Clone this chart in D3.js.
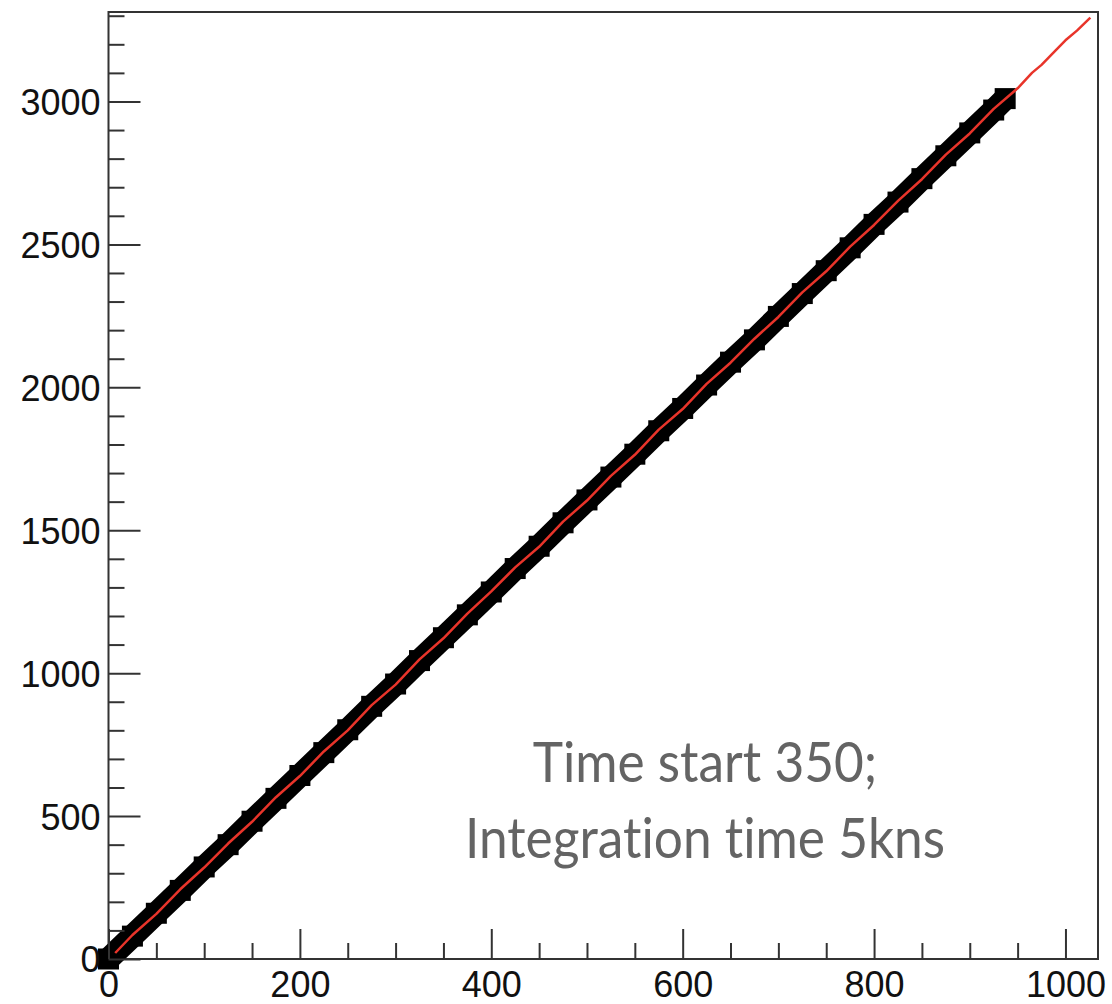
<!DOCTYPE html>
<html>
<head>
<meta charset="utf-8">
<script src="https://cdn.jsdelivr.net/npm/d3@7"></script>
<style>
  body { margin: 0; background: #fff; }
  svg { display: block; }
</style>
</head>
<body>
<svg id="chart" width="1112" height="1004"></svg>
<script>
// black scatter band (centre line)
const bandX = [0, 25, 50, 75, 100, 125, 150, 175, 200, 225, 250, 275, 300, 325, 350, 375, 400,
  425, 450, 475, 500, 525, 550, 575, 600, 625, 650, 675, 700, 725, 750, 775, 800, 825, 850,
  875, 900, 925, 937];
const bandY = [0, 80, 160, 240, 322, 400, 482, 562, 642, 722, 802, 884, 962, 1044, 1124, 1204, 1284,
  1366, 1444, 1526, 1606, 1686, 1766, 1848, 1926, 2008, 2088, 2166, 2248, 2328, 2408, 2488, 2570,
  2648, 2730, 2810, 2890, 2970, 3010];

// red profile
const redX = [7, 25, 50, 75, 100, 125, 150, 175, 200, 225, 250, 275, 300, 325, 350, 375, 400,
  425, 450, 475, 500, 525, 550, 575, 600, 625, 650, 675, 700, 725, 750, 775, 800, 825, 850,
  875, 900, 925, 950, 965, 975, 990, 1000, 1012, 1026];
const redY = [21, 84, 158, 244, 320, 404, 480, 566, 640, 726, 800, 888, 960, 1048, 1122, 1208, 1286,
  1370, 1442, 1530, 1604, 1690, 1764, 1852, 1924, 2012, 2086, 2170, 2246, 2332, 2406, 2492, 2568,
  2652, 2728, 2814, 2888, 2974, 3046, 3100, 3128, 3180, 3214, 3248, 3293];

const xMajorTicks = [0, 200, 400, 600, 800, 1000];
const yMajorTicks = [0, 500, 1000, 1500, 2000, 2500, 3000];
const xMinorStep = 50;
const yMinorStep = 100;
const noteLines = ['Time start 350;', 'Integration time 5kns'];

const svg = d3.select('#chart');
const mLeft = 108.5, mRight = 1098, mTop = 12, mBottom = 959;

const x = d3.scaleLinear().domain([0, 1034]).range([mLeft, mRight]);
const y = d3.scaleLinear().domain([0, 3313]).range([mBottom, mTop]);

// frame
svg.append('rect')
    .attr('x', mLeft).attr('y', mTop)
    .attr('width', mRight - mLeft).attr('height', mBottom - mTop)
    .attr('fill', 'none')
    .attr('stroke', '#333')
    .attr('stroke-width', 2);

// band
const band = d3.zip(bandX, bandY);
const line = d3.line().x((d) => x(d[0])).y((d) => y(d[1]));
svg.append('path')
    .datum(band)
    .attr('d', line)
    .attr('fill', 'none')
    .attr('stroke', '#000')
    .attr('stroke-width', 23)
    .attr('stroke-linecap', 'butt');

// square markers along the band
const mk = 21;
svg.append('g')
    .selectAll('rect')
    .data(band)
    .join('rect')
    .attr('x', (d) => x(d[0]) - mk / 2)
    .attr('y', (d) => y(d[1]) - mk / 2)
    .attr('width', mk)
    .attr('height', mk)
    .attr('fill', '#000');

svg.append('path')
    .datum(d3.zip(redX, redY))
    .attr('d', line)
    .attr('fill', 'none')
    .attr('stroke', '#e8342a')
    .attr('stroke-width', 2.5)
    .attr('stroke-linejoin', 'round');

// axes
const xMinor = d3.range(0, 1034, xMinorStep).filter((v) => xMajorTicks.indexOf(v) < 0);
const yMinor = d3.range(0, 3313, yMinorStep).filter((v) => yMajorTicks.indexOf(v) < 0);

function styleAxis(g) {
    g.select('.domain').remove();
    g.selectAll('.tick line').attr('stroke', '#333').attr('stroke-width', 2);
    g.selectAll('.tick text')
        .attr('font-family', '"Liberation Sans", Arial, sans-serif')
        .attr('font-size', 36)
        .attr('fill', '#111');
}

svg.append('g')
    .attr('transform', `translate(0,${mBottom})`)
    .call(d3.axisBottom(x).tickValues(xMinor).tickSize(-16).tickFormat(''))
    .call(styleAxis);
svg.append('g')
    .attr('transform', `translate(0,${mBottom})`)
    .call(d3.axisBottom(x).tickValues(xMajorTicks).tickSize(-30).tickPadding(0).tickFormat(d3.format('d')))
    .call(styleAxis)
    .call((g) => g.selectAll('.tick text').attr('y', 38).attr('dy', 0));

svg.append('g')
    .attr('transform', `translate(${mLeft},0)`)
    .call(d3.axisLeft(y).tickValues(yMinor).tickSize(-16).tickFormat(''))
    .call(styleAxis);
svg.append('g')
    .attr('transform', `translate(${mLeft},0)`)
    .call(d3.axisLeft(y).tickValues(yMajorTicks).tickSize(-32).tickPadding(0).tickFormat(d3.format('d')))
    .call(styleAxis)
    .call((g) => g.selectAll('.tick text').attr('x', -8).attr('dy', '0.36em'));

// note
const note = svg.append('g')
    .attr('font-family', 'Lato, "Open Sans", sans-serif')
    .attr('fill', '#646464')
    .style('font-variant-ligatures', 'none');
note.selectAll('text')
    .data(noteLines)
    .join('text')
    .attr('transform', (d, i) => `translate(705,${782 + i * 76}) scale(1,1.1)`)
    .attr('text-anchor', 'middle')
    .attr('font-size', 58)
    .text((d) => d);
const w = note.selectAll('text').nodes()[1].getComputedTextLength();
note.selectAll('text').attr('font-size', 58 * 480 / w);
</script>
</body>
</html>
